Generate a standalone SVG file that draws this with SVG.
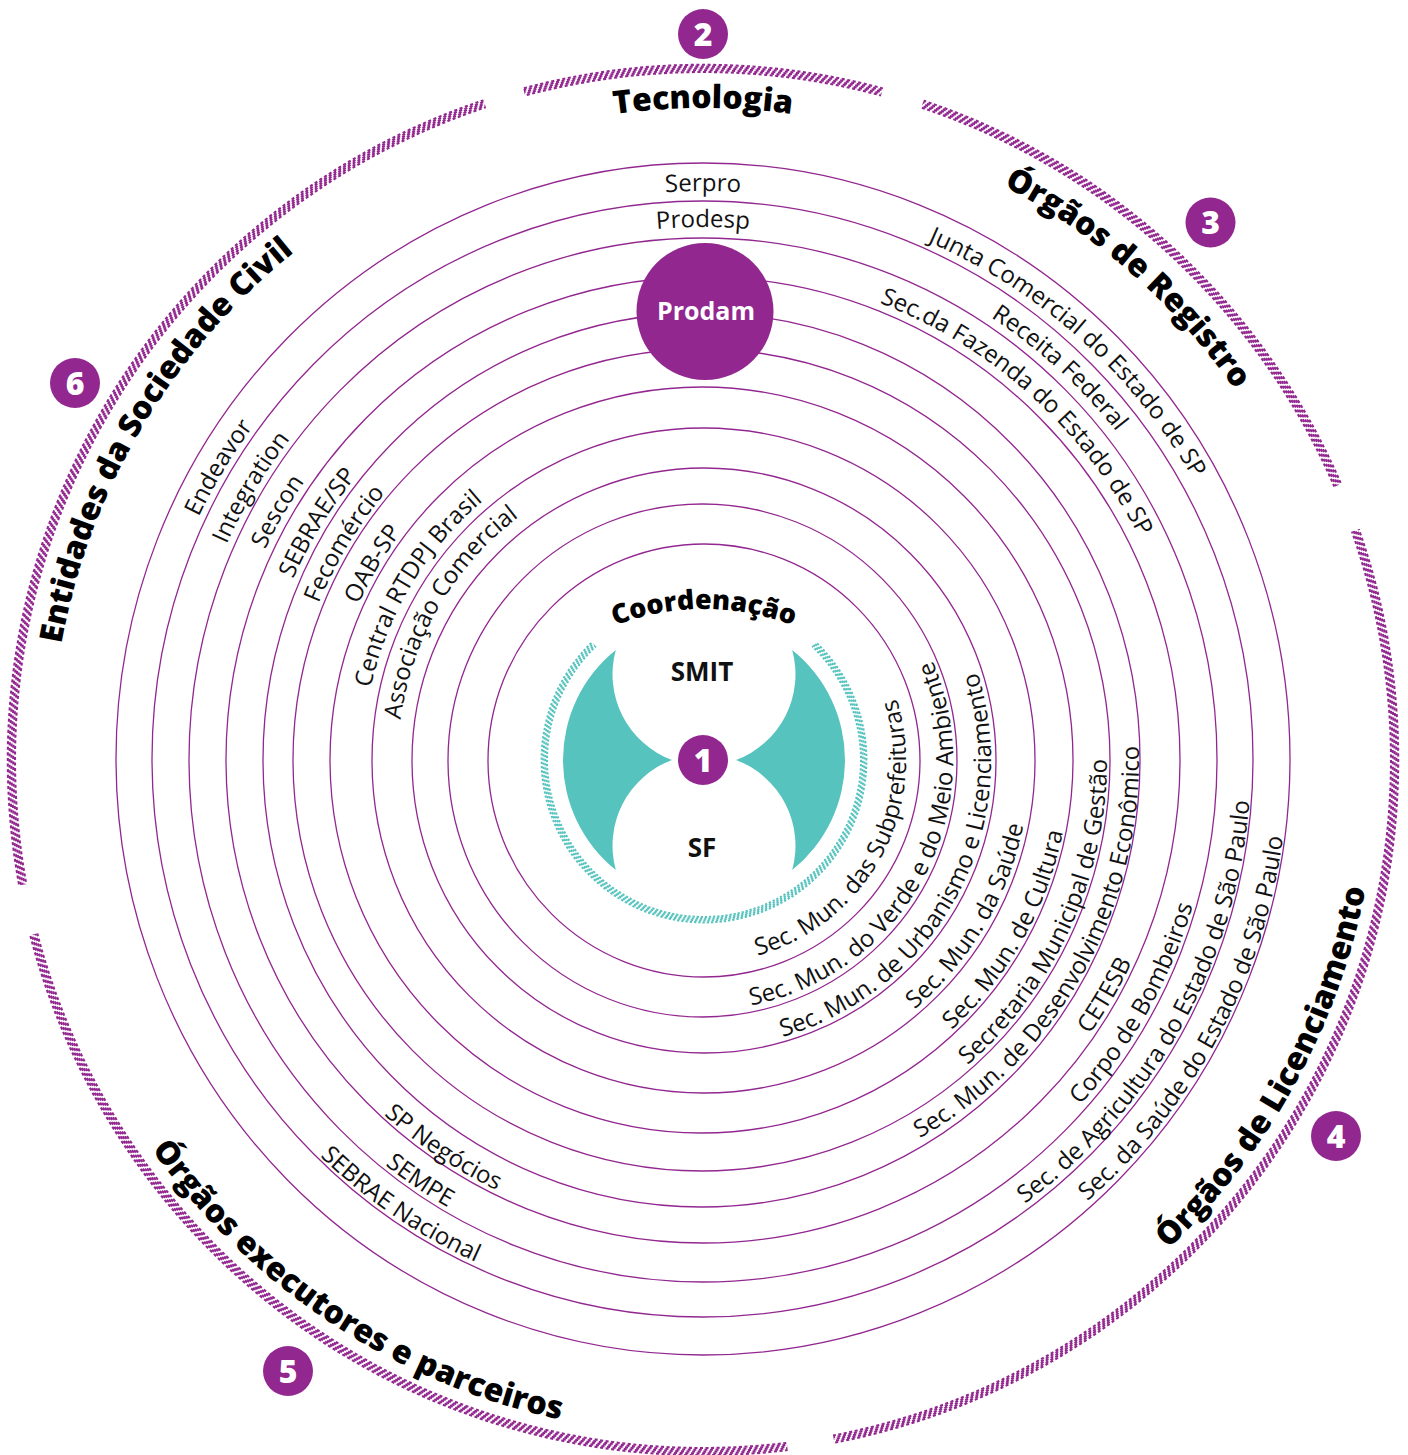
<svg xmlns="http://www.w3.org/2000/svg" width="1408" height="1455" viewBox="0 0 1408 1455">
  <style>
    .ring { fill: none; stroke: #92278F; stroke-width: 1.3; }
    .lbl { font-family: 'Open Sans', 'Noto Sans', 'DejaVu Sans', sans-serif; font-size: 24px; fill: #111; }
    .big { font-family: 'Open Sans', 'Noto Sans', 'DejaVu Sans', sans-serif; font-size: 32px; font-weight: 800; fill: #000; }
    .title { font-size: 27px; }
    .badge { fill: #92278F; }
    .num { font-family: 'Open Sans', 'Noto Sans', 'DejaVu Sans', sans-serif; font-size: 32px; font-weight: 800; fill: #fff; text-anchor: middle; }
    .core { font-family: 'Open Sans', 'Noto Sans', 'DejaVu Sans', sans-serif; font-size: 26px; font-weight: 700; fill: #111; text-anchor: middle; }
  </style>
  <defs>
    <!-- clockwise circles (start at bottom) for labels with tops facing outward -->
    <path id="t569" d="M703 1329A569 569 0 1 1 703 191A569 569 0 1 1 703 1329"/>
    <path id="t533" d="M703 1293A533 533 0 1 1 703 227A533 533 0 1 1 703 1293"/>
    <path id="t648" d="M703 1408A648 648 0 1 1 703 112A648 648 0 1 1 703 1408"/>
    <path id="t652" d="M703 1412A652 652 0 1 1 703 108A652 652 0 1 1 703 1412"/>
    <path id="t565" d="M703 1325A565 565 0 1 1 703 195A565 565 0 1 1 703 1325"/>
    <path id="t528" d="M703 1288A528 528 0 1 1 703 232A528 528 0 1 1 703 1288"/>
    <path id="t490" d="M703 1250A490 490 0 1 1 703 270A490 490 0 1 1 703 1250"/>
    <path id="t560" d="M703 1320A560 560 0 1 1 703 200A560 560 0 1 1 703 1320"/>
    <path id="t523" d="M703 1283A523 523 0 1 1 703 237A523 523 0 1 1 703 1283"/>
    <path id="t486" d="M703 1246A486 486 0 1 1 703 274A486 486 0 1 1 703 1246"/>
    <path id="t448" d="M703 1208A448 448 0 1 1 703 312A448 448 0 1 1 703 1208"/>
    <path id="t415" d="M703 1175A415 415 0 1 1 703 345A415 415 0 1 1 703 1175"/>
    <path id="t378" d="M703 1138A378 378 0 1 1 703 382A378 378 0 1 1 703 1138"/>
    <path id="t340" d="M703 1100A340 340 0 1 1 703 420A340 340 0 1 1 703 1100"/>
    <path id="t305" d="M703 1065A305 305 0 1 1 703 455A305 305 0 1 1 703 1065"/>
    <!-- flatter arc carrying the core title -->
    <path id="coordArc" d="M458 855A246 246 0 0 1 950 855"/>
    <!-- counter-clockwise circles (start at top) for labels with tops facing the centre -->
    <path id="u203" d="M703 557A203 203 0 1 0 703 963A203 203 0 1 0 703 557"/>
    <path id="u250" d="M703 510A250 250 0 1 0 703 1010A250 250 0 1 0 703 510"/>
    <path id="u288" d="M703 472A288 288 0 1 0 703 1048A288 288 0 1 0 703 472"/>
    <path id="u327" d="M703 433A327 327 0 1 0 703 1087A327 327 0 1 0 703 433"/>
    <path id="u367" d="M703 393A367 367 0 1 0 703 1127A367 367 0 1 0 703 393"/>
    <path id="u404" d="M703 356A404 404 0 1 0 703 1164A404 404 0 1 0 703 356"/>
    <path id="u436" d="M703 324A436 436 0 1 0 703 1196A436 436 0 1 0 703 324"/>
    <path id="u474" d="M703 286A474 474 0 1 0 703 1234A474 474 0 1 0 703 286"/>
    <path id="u477" d="M703 283A477 477 0 1 0 703 1237A477 477 0 1 0 703 283"/>
    <path id="u511" d="M703 249A511 511 0 1 0 703 1271A511 511 0 1 0 703 249"/>
    <path id="u515" d="M703 245A515 515 0 1 0 703 1275A515 515 0 1 0 703 245"/>
    <path id="u548" d="M703 212A548 548 0 1 0 703 1308A548 548 0 1 0 703 212"/>
    <path id="u551" d="M703 209A551 551 0 1 0 703 1311A551 551 0 1 0 703 209"/>
    <path id="u585" d="M703 175A585 585 0 1 0 703 1345A585 585 0 1 0 703 175"/>
    <path id="u675" d="M703 85A675 675 0 1 0 703 1435A675 675 0 1 0 703 85"/>

    <!-- angular windows of the hatched bands (units: degrees, clockwise from 3 o'clock) -->
    <mask id="ringMask" maskUnits="userSpaceOnUse" x="0" y="0" width="1408" height="1455">
      <circle cx="703" cy="760" r="692" fill="none" stroke="#fff" stroke-width="30" pathLength="360"
              stroke-dasharray="79.1 3.9 82.4 4.2 82 3.4 30 3.5 48.1 4 19.4"/>
    </mask>
    <mask id="tealMask" maskUnits="userSpaceOnUse" x="0" y="0" width="1408" height="1455">
      <circle cx="704" cy="760" r="160" fill="none" stroke="#fff" stroke-width="20" pathLength="360"
              stroke-dasharray="226.5 87 46.5"/>
    </mask>
  </defs>

  <rect width="1408" height="1455" fill="#fff"/>

  <!-- concentric rings -->
  <g id="rings" class="ring">
    <ellipse cx="704" cy="760.5" rx="216" ry="216.5"/>
    <ellipse cx="702.5" cy="760.5" rx="254.5" ry="256.5"/>
    <ellipse cx="704" cy="760.5" rx="292" ry="292.5"/>
    <ellipse cx="703.5" cy="760.5" rx="331.5" ry="332.5"/>
    <ellipse cx="701.5" cy="760" rx="371.5" ry="373"/>
    <ellipse cx="701.5" cy="760" rx="408.5" ry="411"/>
    <ellipse cx="701.5" cy="760" rx="438.5" ry="447"/>
    <ellipse cx="703" cy="760" rx="477" ry="483"/>
    <ellipse cx="703" cy="760" rx="514" ry="522"/>
    <ellipse cx="702.5" cy="759" rx="550.5" ry="558"/>
    <ellipse cx="703" cy="759" rx="587" ry="596"/>
  </g>

  <!-- outer hatched band, split in five sectors by the mask -->
  <g id="outer-hatch" mask="url(#ringMask)" fill="none" stroke="#92278F" stroke-width="2.1" stroke-dasharray="3.1 2.503">
    <circle cx="703" cy="760" r="688" pathLength="4348"/>
    <circle cx="703" cy="760" r="689.8" pathLength="4348" stroke-dashoffset="-1.15"/>
    <circle cx="703" cy="760" r="691.6" pathLength="4348" stroke-dashoffset="-2.3"/>
    <circle cx="703" cy="760" r="693.4" pathLength="4348" stroke-dashoffset="-3.45"/>
    <circle cx="703" cy="760" r="695.2" pathLength="4348" stroke-dashoffset="-4.6"/>
  </g>

  <!-- coordination core -->
  <g id="node-coordenacao">
    <g mask="url(#tealMask)" fill="none" stroke="#56C3BE" stroke-width="2" stroke-dasharray="2.3 1.9">
      <circle cx="704" cy="760" r="157" pathLength="1004"/>
      <circle cx="704" cy="760" r="158.8" pathLength="1004" stroke-dashoffset="-0.8"/>
      <circle cx="704" cy="760" r="160.6" pathLength="1004" stroke-dashoffset="-1.6"/>
      <circle cx="704" cy="760" r="162.4" pathLength="1004" stroke-dashoffset="-2.4"/>
    </g>
    <path fill="#56C3BE" d="M615.8 650A141 141 0 0 0 615.8 870A91.5 91.5 0 0 1 672 760A91.5 91.5 0 0 1 615.8 650Z"/>
    <path fill="#56C3BE" d="M792.2 650A141 141 0 0 1 792.2 870A91.5 91.5 0 0 0 736 760A91.5 91.5 0 0 0 792.2 650Z"/>
    <text class="big title" text-anchor="middle"><textPath href="#coordArc" startOffset="50%">Coordenação</textPath></text>
    <text class="core" x="702" y="681">SMIT</text>
    <text class="core" x="702" y="857">SF</text>
    <circle class="badge" cx="703" cy="760" r="25"/>
    <text class="num" x="703" y="771.5">1</text>
  </g>

  <!-- 2 Tecnologia -->
  <g id="node-tecnologia">
    <circle class="badge" cx="703" cy="34" r="25"/>
    <text class="num" x="703" y="45.5">2</text>
    <text class="big" text-anchor="middle"><textPath href="#t652" startOffset="50%">Tecnologia</textPath></text>
    <text class="lbl" text-anchor="middle"><textPath href="#t569" startOffset="50%">Serpro</textPath></text>
    <text class="lbl" text-anchor="middle"><textPath href="#t533" startOffset="50%">Prodesp</textPath></text>
    <circle class="badge" cx="705" cy="311.5" r="68.5"/>
    <text x="706" y="320" font-family="'Open Sans', 'Noto Sans', 'DejaVu Sans', sans-serif" font-size="25" font-weight="700" fill="#fff" text-anchor="middle">Prodam</text>
  </g>

  <!-- 3 Órgãos de Registro -->
  <g id="node-registro">
    <circle class="badge" cx="1210.5" cy="222.5" r="25"/>
    <text class="num" x="1210.5" y="234">3</text>
    <text class="big" text-anchor="middle"><textPath href="#t648" startOffset="61.5%">Órgãos de Registro</textPath></text>
    <text class="lbl" text-anchor="middle"><textPath href="#t565" startOffset="61.61%">Junta Comercial do Estado de SP</textPath></text>
    <text class="lbl" text-anchor="middle"><textPath href="#t528" startOffset="61.75%">Receita Federal</textPath></text>
    <text class="lbl" text-anchor="middle"><textPath href="#t490" startOffset="61.67%">Sec.da Fazenda do Estado de SP</textPath></text>
  </g>

  <!-- 4 Órgãos de Licenciamento -->
  <g id="node-licenciamento">
    <circle class="badge" cx="1336" cy="1136" r="25"/>
    <text class="num" x="1336" y="1147.5">4</text>
    <text class="big" text-anchor="middle"><textPath href="#u675" startOffset="67.03%">Órgãos de Licenciamento</textPath></text>
    <text class="lbl" text-anchor="middle"><textPath href="#u203" startOffset="67.11%">Sec. Mun. das Subprefeituras</textPath></text>
    <text class="lbl" text-anchor="middle"><textPath href="#u250" startOffset="67.3%">Sec. Mun. do Verde e do Meio Ambiente</textPath></text>
    <text class="lbl" text-anchor="middle"><textPath href="#u288" startOffset="67.2%">Sec. Mun. de Urbanismo e Licenciamento</textPath></text>
    <text class="lbl" text-anchor="middle"><textPath href="#u327" startOffset="66.5%">Sec. Mun. da Saúde</textPath></text>
    <text class="lbl" text-anchor="middle"><textPath href="#u367" startOffset="66.86%">Sec. Mun. de Cultura</textPath></text>
    <text class="lbl" text-anchor="middle"><textPath href="#u404" startOffset="68.2%">Secretaria Municipal de Gestão</textPath></text>
    <text class="lbl" text-anchor="middle"><textPath href="#u436" startOffset="66.9%">Sec. Mun. de Desenvolvimento Econômico</textPath></text>
    <text class="lbl" text-anchor="middle"><textPath href="#u474" startOffset="66.58%">CETESB</textPath></text>
    <text class="lbl" text-anchor="middle"><textPath href="#u511" startOffset="66.81%">Corpo de Bombeiros</textPath></text>
    <text class="lbl" text-anchor="middle"><textPath href="#u548" startOffset="66.9%">Sec. de Agricultura do Estado de São Paulo</textPath></text>
    <text class="lbl" text-anchor="middle"><textPath href="#u585" startOffset="67.15%">Sec. da Saúde do Estado de São Paulo</textPath></text>
  </g>

  <!-- 5 Órgãos executores e parceiros -->
  <g id="node-executores">
    <circle class="badge" cx="288" cy="1371" r="25"/>
    <text class="num" x="288" y="1382.5">5</text>
    <text class="big" text-anchor="middle"><textPath href="#u675" startOffset="40.7%">Órgãos executores e parceiros</textPath></text>
    <text class="lbl" text-anchor="middle"><textPath href="#u477" startOffset="40.61%">SP Negócios</textPath></text>
    <text class="lbl" text-anchor="middle"><textPath href="#u515" startOffset="40.58%">SEMPE</textPath></text>
    <text class="lbl" text-anchor="middle"><textPath href="#u551" startOffset="40.5%">SEBRAE Nacional</textPath></text>
  </g>

  <!-- 6 Entidades da Sociedade Civil -->
  <g id="node-sociedade">
    <circle class="badge" cx="75" cy="383" r="25"/>
    <text class="num" x="75" y="394.5">6</text>
    <text class="big" text-anchor="middle"><textPath href="#t652" startOffset="33.53%">Entidades da Sociedade Civil</textPath></text>
    <text class="lbl" text-anchor="middle"><textPath href="#t560" startOffset="33.65%">Endeavor</textPath></text>
    <text class="lbl" text-anchor="middle"><textPath href="#t523" startOffset="33.64%">Integration</textPath></text>
    <text class="lbl" text-anchor="middle"><textPath href="#t486" startOffset="33.42%">Sescon</textPath></text>
    <text class="lbl" text-anchor="middle"><textPath href="#t448" startOffset="33.78%">SEBRAE/SP</textPath></text>
    <text class="lbl" text-anchor="middle"><textPath href="#t415" startOffset="33.64%">Fecomércio</textPath></text>
    <text class="lbl" text-anchor="middle"><textPath href="#t378" startOffset="33.53%">OAB-SP</textPath></text>
    <text class="lbl" text-anchor="middle"><textPath href="#t340" startOffset="33.6%">Central RTDPJ Brasil</textPath></text>
    <text class="lbl" text-anchor="middle"><textPath href="#t305" startOffset="33.4%">Associação Comercial</textPath></text>
  </g>
</svg>
